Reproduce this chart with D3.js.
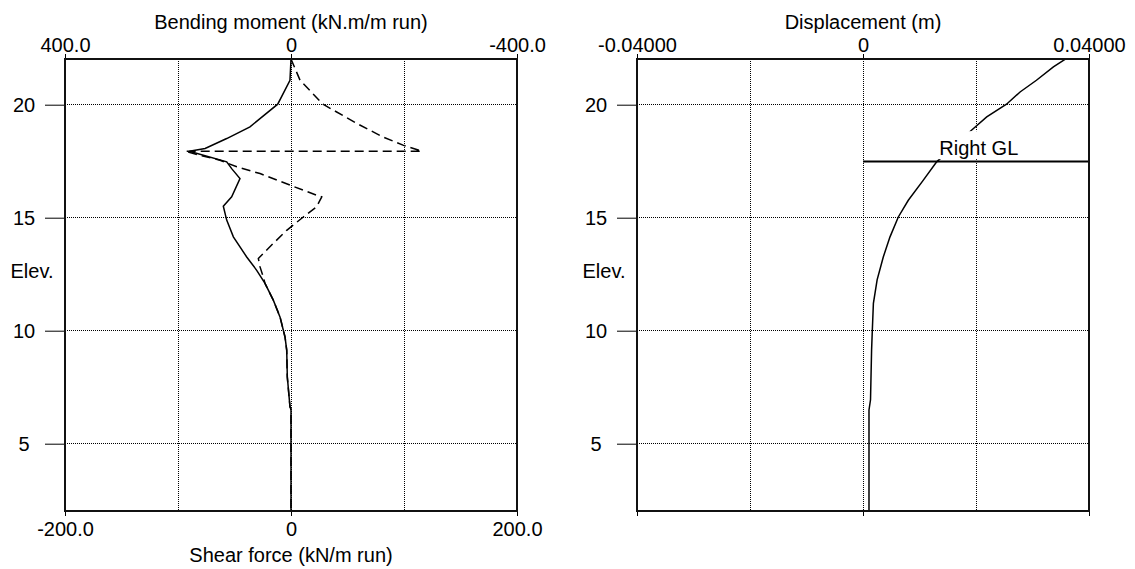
<!DOCTYPE html>
<html lang="en">
<head>
<meta charset="utf-8">
<title>Wall results</title>
<script src="https://cdn.jsdelivr.net/npm/d3@7"></script>
<style>
body { margin: 0; background: #fff; }
text { font-family: "Liberation Sans", Arial, sans-serif; font-size: 20px; fill: #000; }
</style>
</head>
<body>
<script>
// axes
var elevTicks = [5, 10, 15, 20];
var momentTicks = [400, 0, -400];
var momentTickLabels = ["400.0", "0", "-400.0"];
var shearTicks = [-200, 0, 200];
var shearTickLabels = ["-200.0", "0", "200.0"];
var dispTicks = [-0.04, 0, 0.04];
var dispTickLabels = ["-0.04000", "0", "0.04000"];
var momentGrid = [200, 0, -200];
var dispGrid = [-0.02, 0, 0.02];
var rightGL = 17.48;

// bending moment (solid)
var momentElev = [22.0, 21.06, 20.0, 19.0, 18.48, 18.04, 17.92, 17.45, 17.15, 16.71, 15.90, 15.49, 14.87, 14.13, 13.24, 12.65, 12.07, 11.33, 10.59, 9.70, 9.12, 7.93, 6.61, 6.5, 2.0];
var momentVal = [0, 1.8, 23.5, 72.6, 113.8, 152, 180, 113.8, 105, 90.3, 105, 119.8, 113.8, 102, 78.4, 60.7, 46, 31.3, 19.5, 10.6, 7.6, 6.5, 1.8, 0, 0];

// shear force (dashed)
var shearElev = [22.0, 21.06, 20.0, 19.15, 18.55, 18.19, 17.92, 17.92, 17.74, 17.52, 17.23, 16.93, 16.42, 15.97, 15.90, 15.46, 15.01, 14.42, 13.84, 13.17, 12.80, 12.40, 12.07, 11.33, 10.59, 9.70, 9.12, 7.93, 6.61, 6.5, 2.0];
var shearVal = [0, 8, 28.3, 58.1, 81.4, 99.1, 115.7, -93.8, -80.5, -62.8, -48, -27.4, -0.9, 22.7, 27.2, 22.7, 10.9, -3.8, -15.7, -28.9, -27.4, -24.8, -23, -15.7, -9.7, -5.3, -3.8, -3.3, -0.9, 0, 0];

// displacement
var dispElev = [21.98, 21.65, 21.06, 20.54, 20.0, 19.44, 18.85, 17.45, 16.64, 15.75, 15.01, 14.13, 13.24, 12.23, 11.19, 10.0, 9.13, 6.92, 6.47, 2.0];
var dispVal = [0.03575, 0.0337, 0.0307, 0.0278, 0.0254, 0.0219, 0.0192, 0.01304, 0.01068, 0.00802, 0.00625, 0.00478, 0.00359, 0.0025, 0.00184, 0.00165, 0.00152, 0.00133, 0.00106, 0.00106];

var w = 1135, h = 569;
var plotTop = 59, size = 452;
var leftX = 65, rightX = 637;

var svg = d3.select("body").append("svg")
    .attr("width", w)
    .attr("height", h);

var y = d3.scaleLinear().domain([2, 22]).range([plotTop + size, plotTop]);
var xMoment = d3.scaleLinear().domain([400, -400]).range([leftX, leftX + size]);
var xShear = d3.scaleLinear().domain([-200, 200]).range([leftX, leftX + size]);
var xDisp = d3.scaleLinear().domain([-0.04, 0.04]).range([rightX, rightX + size]);

function crisp(v) { return Math.round(v) + 0.5; }

function panel(x0, xGridScale, gridVals) {
    var g = svg.append("g");
    // dotted grid
    g.selectAll(".vg").data(gridVals).enter().append("line")
        .attr("x1", function(d) { return crisp(xGridScale(d)); })
        .attr("x2", function(d) { return crisp(xGridScale(d)); })
        .attr("y1", plotTop).attr("y2", plotTop + size)
        .attr("stroke", "#000").attr("stroke-dasharray", "1,1");
    g.selectAll(".hg").data(elevTicks).enter().append("line")
        .attr("x1", x0).attr("x2", x0 + size)
        .attr("y1", function(d) { return crisp(y(d)); })
        .attr("y2", function(d) { return crisp(y(d)); })
        .attr("stroke", "#000").attr("stroke-dasharray", "1,1");

    // elevation axis
    var ax = g.append("g")
        .attr("transform", "translate(" + x0 + ",0.5)")
        .call(d3.axisLeft(y).tickValues(elevTicks).tickSize(20).tickSizeOuter(0));
    ax.select(".domain").remove();
    ax.selectAll("text")
        .attr("text-anchor", "middle")
        .attr("x", -41)
        .attr("dy", "0.35em");
    svg.append("text")
        .attr("x", x0 - 33)
        .attr("y", 278)
        .attr("text-anchor", "middle")
        .text("Elev.");
    return g;
}

function frame(x0) {
    svg.append("rect")
        .attr("x", x0).attr("y", plotTop)
        .attr("width", size).attr("height", size)
        .attr("fill", "none")
        .attr("stroke", "#111")
        .attr("stroke-width", 2);
}

// ---- left panel ----
panel(leftX, xMoment, momentGrid);

var topAx = svg.append("g")
    .attr("transform", "translate(0," + plotTop + ")")
    .call(d3.axisTop(xMoment).tickValues(momentTicks)
        .tickFormat(function(d, i) { return momentTickLabels[i]; })
        .tickSize(5).tickPadding(2).tickSizeOuter(0));
topAx.select(".domain").remove();

var botAx = svg.append("g")
    .attr("transform", "translate(0," + (plotTop + size) + ")")
    .call(d3.axisBottom(xShear).tickValues(shearTicks)
        .tickFormat(function(d, i) { return shearTickLabels[i]; })
        .tickSize(5).tickPadding(6).tickSizeOuter(0));
botAx.select(".domain").remove();

var momentLine = d3.line()
    .x(function(d) { return xMoment(d[1]); })
    .y(function(d) { return y(d[0]); });
var shearLine = d3.line()
    .x(function(d) { return xShear(d[1]); })
    .y(function(d) { return y(d[0]); });

svg.append("path")
    .datum(d3.zip(shearElev, shearVal))
    .attr("d", shearLine)
    .attr("fill", "none")
    .attr("stroke", "#000")
    .attr("stroke-width", 1.5)
    .attr("stroke-dasharray", "9,5");

svg.append("path")
    .datum(d3.zip(momentElev, momentVal))
    .attr("d", momentLine)
    .attr("fill", "none")
    .attr("stroke", "#000")
    .attr("stroke-width", 1.5);

frame(leftX);

svg.append("text")
    .attr("x", leftX + size / 2)
    .attr("y", 29)
    .attr("text-anchor", "middle")
    .text("Bending moment (kN.m/m run)");
svg.append("text")
    .attr("x", leftX + size / 2)
    .attr("y", 562)
    .attr("text-anchor", "middle")
    .text("Shear force (kN/m run)");

// ---- right panel ----
panel(rightX, xDisp, dispGrid);

var topAx2 = svg.append("g")
    .attr("transform", "translate(0," + plotTop + ")")
    .call(d3.axisTop(xDisp).tickValues(dispTicks)
        .tickFormat(function(d, i) { return dispTickLabels[i]; })
        .tickSize(5).tickPadding(2).tickSizeOuter(0));
topAx2.select(".domain").remove();

var botAx2 = svg.append("g")
    .attr("transform", "translate(0," + (plotTop + size) + ")")
    .call(d3.axisBottom(xDisp).tickValues(dispTicks)
        .tickFormat("").tickSize(5).tickSizeOuter(0));
botAx2.select(".domain").remove();

var dispLine = d3.line()
    .x(function(d) { return xDisp(d[1]); })
    .y(function(d) { return y(d[0]); });

svg.append("path")
    .datum(d3.zip(dispElev, dispVal))
    .attr("d", dispLine)
    .attr("fill", "none")
    .attr("stroke", "#000")
    .attr("stroke-width", 1.5);

// ground level marker
svg.append("line")
    .attr("x1", xDisp(0)).attr("x2", rightX + size)
    .attr("y1", crisp(y(rightGL))).attr("y2", crisp(y(rightGL)))
    .attr("stroke", "#000")
    .attr("stroke-width", 2);
var glX = xDisp(0.0205);
svg.append("rect")
    .attr("x", glX - 44).attr("y", y(rightGL) - 30)
    .attr("width", 88).attr("height", 28)
    .attr("fill", "#fff");
svg.append("text")
    .attr("x", glX)
    .attr("y", y(rightGL) - 6)
    .attr("text-anchor", "middle")
    .text("Right GL");

frame(rightX);

svg.append("text")
    .attr("x", rightX + size / 2)
    .attr("y", 29)
    .attr("text-anchor", "middle")
    .text("Displacement (m)");

svg.selectAll(".tick text").style("font-size", "20px");
</script>
</body>
</html>
